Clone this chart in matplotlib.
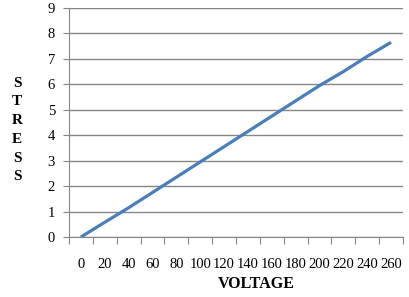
import numpy as np
import matplotlib.pyplot as plt
from matplotlib.ticker import FixedLocator

voltage = [0, 20, 40, 60, 80, 100, 120, 140, 160, 180, 200, 220, 240, 260]
stress = [0, 0.58, 1.15, 1.75, 2.35, 2.95, 3.55, 4.15, 4.75, 5.35, 5.95, 6.5, 7.1, 7.65]
y_ticks = list(range(0, 10))

plt.rcParams['font.family'] = ['Liberation Serif', 'DejaVu Serif']

fig = plt.figure(figsize=(4.1, 2.97), dpi=100)
ax = fig.add_axes([69/410, 1-237/297, (403-69)/410, (237-8)/297])

pos = np.arange(len(voltage))
ax.plot(pos, stress, color='#4a7ebb', lw=2.3, solid_capstyle='butt')

ax.set_xlim(-0.5, len(voltage) - 0.5)
ax.set_ylim(0, 9)
ax.set_yticks(y_ticks)
ax.yaxis.grid(True, color='#868686', lw=1)
ax.set_axisbelow(True)

# category axis: tick marks between categories, labels at categories
ax.xaxis.set_major_locator(FixedLocator(np.arange(len(voltage) + 1) - 0.5))
ax.xaxis.set_minor_locator(FixedLocator(pos))
ax.set_xticklabels([])
ax.set_xticklabels([str(v) for v in voltage], minor=True)
ax.tick_params(axis='x', which='major', length=5, color='#868686', direction='out')
ax.tick_params(axis='x', which='minor', length=0, pad=15, labelsize=10.5)
ax.tick_params(axis='y', length=4, color='#868686', pad=6, labelsize=10.5)

for s in ['top', 'right']:
    ax.spines[s].set_visible(False)
for s in ['left', 'bottom']:
    ax.spines[s].set_color('#868686')

fig.text(256/410, 1-284/297, 'VOLTAGE', ha='center', va='center',
         fontsize=11.5, fontweight='bold')
fig.text(17/410, 1-130/297, 'S\nT\nR\nE\nS\nS', ha='center', va='center',
         fontsize=11, fontweight='bold', linespacing=1.57)

fig.savefig('out.png', dpi=100)
